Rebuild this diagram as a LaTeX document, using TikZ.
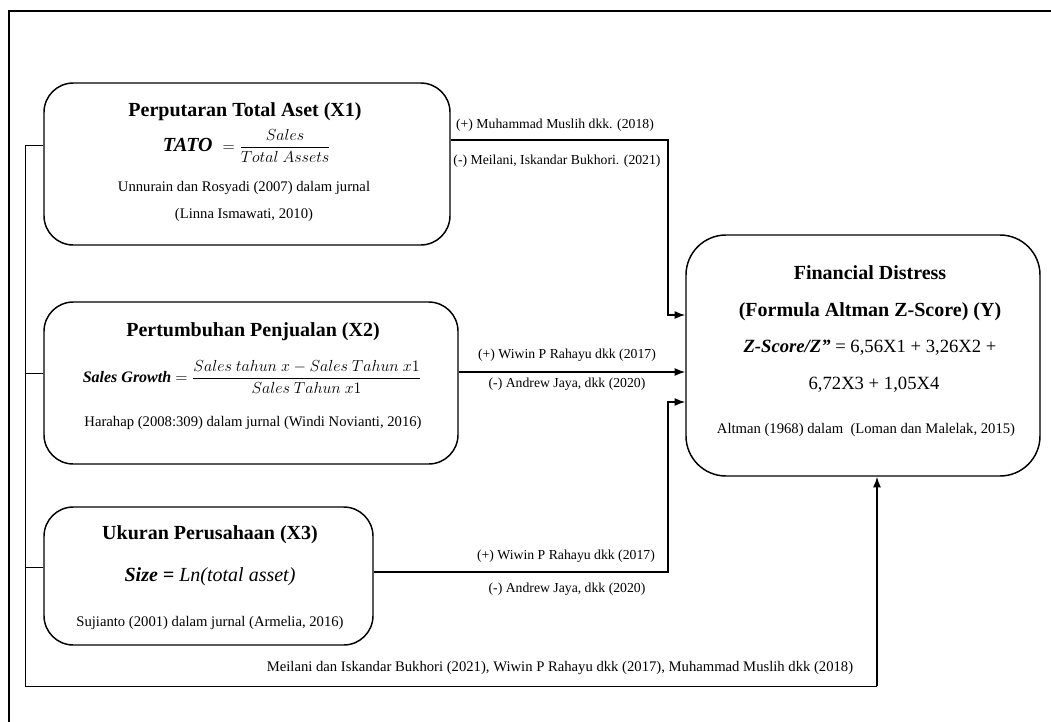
\documentclass[tikz,border=0pt]{standalone}
\usepackage{fontspec}
\setmainfont{Liberation Serif}
\usepackage{tikz}
\usetikzlibrary{arrows.meta}

\begin{document}
\begin{tikzpicture}[x=0.75pt,y=-0.75pt]
	\tikzstyle{var}=[draw, rounded corners=22pt, line width=1.1pt, inner sep=0pt]
	\tikzstyle{judul}=[font=\fontsize{15}{18}\selectfont\bfseries]
	\tikzstyle{isi}=[font=\fontsize{11}{13}\selectfont]
	\tikzstyle{ref}=[font=\fontsize{10.3}{12}\selectfont]
	\tikzstyle{garis}=[line width=0.7pt]
	\tikzset{edge/.style = {->,> = {Latex[length=8pt,width=6pt]}, line width=1.1pt}}
	
	\useasboundingbox (0,0) rectangle (1051,722);
	% frame
	\draw[line width=1pt] (1051,11) -- (9,11) -- (9,722);
	
	% variabel
	\node[var, minimum width=304.5pt, minimum height=121.5pt](x1) at (247,164) {};
	\node[var, minimum width=310.5pt, minimum height=121.5pt](x2) at (251,383) {};
	\node[var, minimum width=246.75pt, minimum height=103.5pt](x3) at (208.5,576) {};
	\node[var, rounded corners=30pt, minimum width=265.5pt, minimum height=180.75pt](y) at (863,355.5) {};
	
	\node[judul](x1t) at (245,112) {Perputaran Total Aset (X1)};
	\node[font=\fontsize{15}{18}\selectfont](x1f) at (247,146) {{\bfseries\itshape TATO}\ \ {\fontsize{12}{14}\selectfont$=\displaystyle\frac{Sales}{Total\ Assets}$}};
	\node[isi](x1c) at (244,188) {Unnurain dan Rosyadi (2007) dalam jurnal};
	\node[isi](x1d) at (244,215) {(Linna Ismawati, 2010)};
	
	\node[judul](x2t) at (253,332) {Pertumbuhan Penjualan (X2)};
	\node[font=\fontsize{12}{14}\selectfont](x2f) at (252,377) {{\bfseries\itshape Sales Growth} $=\displaystyle\frac{Sales\ tahun\ x - Sales\ Tahun\ x1}{Sales\ Tahun\ x1}$};
	\node[isi](x2c) at (253,423) {Harahap (2008:309) dalam jurnal (Windi Novianti, 2016)};
	
	\node[judul](x3t) at (210,535) {Ukuran Perusahaan (X3)};
	\node[font=\fontsize{15}{18}\selectfont](x3f) at (210,577) {{\bfseries\itshape Size =} \textit{Ln(total asset)}};
	\node[isi](x3c) at (210,623) {Sujianto (2001) dalam jurnal (Armelia, 2016)};
	
	\node[judul](yt) at (870,273) {Financial Distress};
	\node[judul](yu) at (870,312) {(Formula Altman Z-Score) (Y)};
	\node[font=\fontsize{14}{17}\selectfont](yf) at (870,348) {{\bfseries\itshape Z-Score/Z”} = 6,56X1 + 3,26X2 +};
	\node[font=\fontsize{14}{17}\selectfont](yg) at (874,385) {6,72X3 + 1,05X4};
	\node[isi](yc) at (866,430) {Altman (1968) dalam\ \ (Loman dan Malelak, 2015)};
	
	% hubungan
	\coordinate (a1) at (668,140);
	\coordinate (m1) at (668,315);
	\coordinate (m2) at (668,372);
	\coordinate (a3) at (668,572);
	\coordinate (m3) at (668,402);
	\draw[edge] (x1.east |- a1) -- (a1) -- (m1) -- (y.west |- m1);
	\draw[edge] (x2.east |- m2) -- (y.west |- m2);
	\draw[edge] (x3.east |- a3) -- (a3) -- (m3) -- (y.west |- m3);
	
	\node[ref](l1) at (555,125) {(+) Muhammad Muslih dkk. (2018)};
	\node[ref](l2) at (557,161) {(-) Meilani, Iskandar Bukhori. (2021)};
	\node[ref](l3) at (567,355) {(+) Wiwin P Rahayu dkk (2017)};
	\node[ref](l4) at (567,384) {(-) Andrew Jaya, dkk (2020)};
	\node[ref](l5) at (566,556) {(+) Wiwin P Rahayu dkk (2017)};
	\node[ref](l6) at (567,589) {(-) Andrew Jaya, dkk (2020)};
	
	% simultan
	\coordinate (b1) at (25,145);
	\coordinate (b2) at (25,373);
	\coordinate (b3) at (25,567);
	\coordinate (b4) at (25,686);
	\coordinate (b5) at (877,686);
	\draw[garis] (x1.west |- b1) -- (b1) -- (b4) -- (b5);
	\draw[garis] (x2.west |- b2) -- (b2);
	\draw[garis] (x3.west |- b3) -- (b3);
	\draw[edge] (b5) -- (y.south -| b5);
	\node[font=\fontsize{11}{13}\selectfont](l7) at (560,668) {Meilani dan Iskandar Bukhori (2021), Wiwin P Rahayu dkk (2017), Muhammad Muslih dkk (2018)};
\end{tikzpicture}
\end{document}
